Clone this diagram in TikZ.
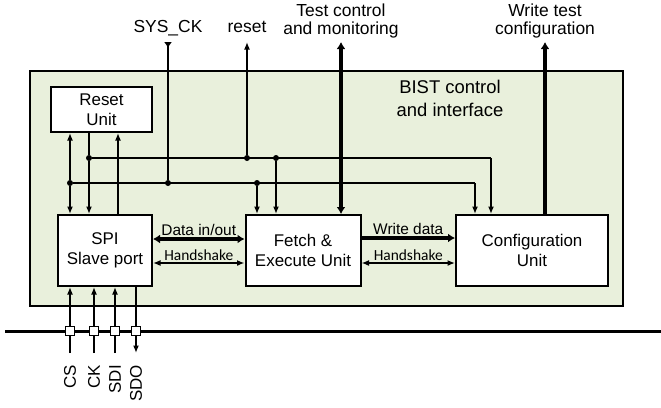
\documentclass[tikz,border=0pt]{standalone}
\usepackage{fontspec}
\setmainfont{Liberation Sans}
\newfontfamily\calibri{Carlito}
\usetikzlibrary{arrows.meta}
\definecolor{bistfondo}{HTML}{E9F0DC}

\begin{document}
\begin{tikzpicture}[x=1bp,y=-1bp,
    >={Latex[length=7.5bp,width=6bp]},
    fina/.style={line width=1.7bp},
    gruesa/.style={line width=4bp,>={Latex[length=7bp,width=9bp]}},
    caja/.style={draw,line width=2bp,fill=white,align=center,inner sep=0pt,
                 font=\fontsize{17}{20}\selectfont},
    punto/.style={circle,fill,inner sep=0pt,minimum size=6bp},
    pad/.style={draw,fill=white,line width=1.4bp,inner sep=0pt,minimum size=8.5bp},
    senal/.style={rotate=90,anchor=east,inner sep=0pt,font=\fontsize{17}{20}\selectfont},
    etiqueta/.style={align=center,font=\fontsize{17.5}{18.5}\selectfont},
    pequena/.style={font=\fontsize{15.5}{17}\selectfont,inner sep=1bp}]
    \useasboundingbox (0,0) rectangle (661,407);

    % Bloque BIST
    \node[draw,line width=1.6bp,fill=bistfondo,minimum width=593bp,minimum height=235bp,
          inner sep=0pt] (bist) at (326.5,188.5) {};
    \node[align=center,font=\fontsize{18.5}{23}\selectfont] (titulo) at (450,98.5)
        {BIST control\\and interface};

    % Bloques internos
    \node[caja,minimum width=101bp,minimum height=45bp] (reset) at (101.5,109.5) {Reset\\Unit};
    \node[caja,minimum width=94bp,minimum height=71bp] (spi) at (105,250.5) {SPI\\Slave port};
    \node[caja,minimum width=115bp,minimum height=71bp] (fetch) at (303,250.5) {Fetch \&\\Execute Unit};
    \node[caja,minimum width=152bp,minimum height=71bp] (config) at (532,250.5) {Configuration\\Unit};

    % Etiquetas de arriba
    \node[etiqueta,anchor=base] (lsysck) at (168,32) {SYS\_CK};
    \node[etiqueta,anchor=base] (lreset) at (247,32) {reset};
    \node[etiqueta] (ltcm) at (341,21) {Test control\\and monitoring};
    \node[etiqueta] (lwtc) at (545,21) {Write test\\configuration};

    % Coordenadas y uniones
    \coordinate (ckin) at (168,42);
    \coordinate (rstout) at (247,42);
    \coordinate (tcm) at (341,42);
    \coordinate (wtc) at (545,42);
    \coordinate (esq1) at (475,183);
    \coordinate (esq2) at (491,158);
    \coordinate (spiup) at (118,0);
    \node[punto] (d1) at (70,183) {};
    \node[punto] (d2) at (89,158) {};
    \node[punto] (d3) at (168,183) {};
    \node[punto] (d4) at (247,158) {};
    \node[punto] (d5) at (257,183) {};
    \node[punto] (d6) at (276,158) {};

    % Reloj y reset
    \draw[fina,{Latex[reversed,length=6bp,width=8bp]}-] (ckin) -- (d3);
    \draw[fina] (d1) -- (esq1);
    \draw[fina,->] (esq1) -- (esq1 |- config.north);
    \draw[fina] (d2) -- (esq2);
    \draw[fina,->] (esq2) -- (esq2 |- config.north);
    \draw[fina,->] (d4) -- (rstout);
    \draw[fina,->] (d1) -- (d1 |- reset.south);
    \draw[fina,->] (d1) -- (d1 |- spi.north);
    \draw[fina] (d2 |- reset.south) -- (d2);
    \draw[fina,->] (d2) -- (d2 |- spi.north);
    \draw[fina,->] (spiup |- spi.north) -- (spiup |- reset.south);
    \draw[fina,->] (d5) -- (d5 |- fetch.north);
    \draw[fina,->] (d6) -- (d6 |- fetch.north);

    % Buses gruesos hacia arriba
    \draw[gruesa,<->] (tcm) -- (tcm |- fetch.north);
    \draw[gruesa,->] (wtc |- config.north) -- (wtc);

    % Flechas entre bloques
    \draw[gruesa,<->,line width=3.2bp] ([yshift=11.5bp]spi.east) --
        node[above=1bp,pequena] (ldin) {Data in/out} ([yshift=11.5bp]fetch.west);
    \draw[fina,<->] ([yshift=-12.5bp]spi.east) --
        node[above=1bp,pequena] (lhs1) {\calibri Handshake} ([yshift=-12.5bp]fetch.west);
    \draw[gruesa,->,line width=3.2bp] ([yshift=12.5bp]fetch.east) --
        node[above=1bp,pequena] (lwd) {Write data} ([yshift=12.5bp]config.west);
    \draw[fina,<->] ([yshift=-12.5bp]fetch.east) --
        node[above=1bp,pequena] (lhs2) {\calibri Handshake} ([yshift=-12.5bp]config.west);

    % Bus externo y pines SPI
    \coordinate (busl) at (5,331);
    \coordinate (busr) at (661,331);
    \draw[line width=3bp] (busl) -- (busr);
    \node[pad] (pcs) at (70,331) {};
    \node[pad] (pck) at (94,331) {};
    \node[pad] (psdi) at (115,331) {};
    \node[pad] (psdo) at (136,331) {};
    \node[senal] (cs) at (70,365) {CS};
    \node[senal] (ck) at (94,365) {CK};
    \node[senal] (sdi) at (115,365) {SDI};
    \node[senal] (sdo) at (136,365) {SDO};
    \draw[fina] ([yshift=12bp]cs.east) -- (pcs);
    \draw[fina,->] (pcs) -- (pcs |- spi.south);
    \draw[fina] ([yshift=12bp]ck.east) -- (pck);
    \draw[fina,->] (pck) -- (pck |- spi.south);
    \draw[fina] ([yshift=12bp]sdi.east) -- (psdi);
    \draw[fina,->] (psdi) -- (psdi |- spi.south);
    \draw[fina] (psdo |- spi.south) -- (psdo);
    \draw[fina,->] (psdo) -- ([yshift=12bp]sdo.east);
\end{tikzpicture}
\end{document}
